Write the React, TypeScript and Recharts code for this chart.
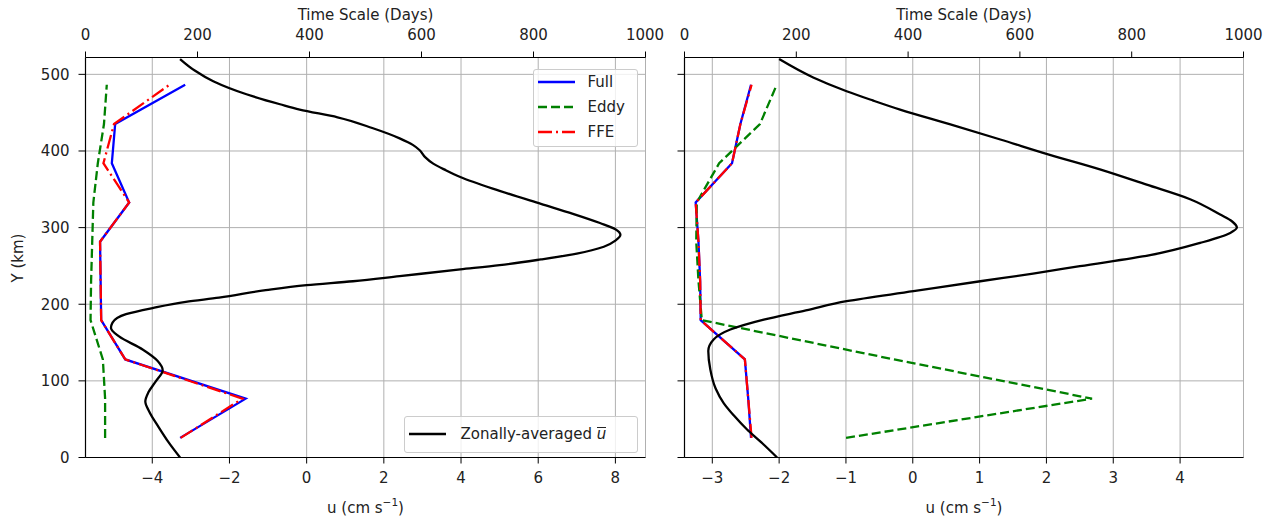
import React from "react";
import { ScatterChart, Scatter, XAxis, YAxis, CartesianGrid } from "recharts";

// Y positions (km) of the time-scale estimates
const Y_CENTERS = [25.6, 76.8, 128, 179.2, 230.4, 281.6, 332.8, 384, 435.2, 486.4];

// left panel time scales (days)
const FULL_L = [169, 286, 71, 28, 27, 26, 78, 47, 53, 178];
const EDDY_L = [35, 35, 31, 9, 10, 12, 14, 22, 33, 38];
const FFE_L = [170, 280, 71, 28, 27, 26, 78, 32, 51, 150];

// right panel time scales (days)
const FULL_R = [119, 114, 108, 29, 28, 25, 20, 85, 100, 119];
const EDDY_R = [289, 729, 375, 31, 25, 21, 22, 62, 135, 165];
const FFE_R = [120, 114, 108, 29, 28, 25, 20, 85, 100, 120];

// zonally averaged u (cm/s) profiles
const ZONAL_Y_L = [0, 20, 40, 60, 73, 85, 100, 114, 126, 141, 158, 169, 176, 187, 195, 203, 208.5, 218.4, 225, 230, 236.7, 245.4, 251, 258.5, 266, 275, 283, 290.6, 298, 306, 318, 331, 348, 366, 375, 383.5, 392, 401, 408, 416.5, 430, 444, 454, 461, 474, 491, 505, 520];
const ZONAL_U_L = [-3.28, -3.58, -3.84, -4.08, -4.18, -4.1, -3.9, -3.73, -3.86, -4.25, -4.86, -5.07, -5.03, -4.68, -3.99, -3.13, -2.27, -1.06, 0.0, 1.2, 2.41, 3.98, 5.0, 6.07, 7.0, 7.7, 8.0, 8.13, 8.0, 7.6, 6.9, 6.07, 5.0, 3.98, 3.6, 3.28, 3.07, 2.93, 2.75, 2.41, 1.7, 0.8, -0.18, -0.69, -1.56, -2.42, -2.9, -3.28];
const ZONAL_Y_R = [0, 20, 36.5, 55, 71, 90, 115, 139, 154, 167, 180, 192, 204, 217, 230, 240, 249.7, 264, 280, 293, 300, 308, 317, 337, 356, 376, 395, 415, 435, 454, 466, 478, 496, 520];
const ZONAL_U_R = [-2.03, -2.27, -2.48, -2.68, -2.83, -2.95, -3.03, -3.06, -2.98, -2.73, -2.23, -1.6, -0.99, 0.01, 1.01, 1.8, 2.5, 3.55, 4.3, 4.75, 4.85, 4.78, 4.6, 4.15, 3.5, 2.8, 2.05, 1.31, 0.55, -0.19, -0.6, -0.99, -1.49, -2.0];

const Y_TICKS = [0, 100, 200, 300, 400, 500];
const DAY_TICKS = [0, 200, 400, 600, 800, 1000];
const U_TICKS_L = [-4, -2, 0, 2, 4, 6, 8];
const U_TICKS_R = [-3, -2, -1, 0, 1, 2, 3, 4];

const FONT = "'DejaVu Sans', sans-serif";
const FS = 15;
const INK = "#222";
const LW = 2.3;
const DASHED = "9 4";
const DASHDOT = "14 4 2 4";

const pts = (xs: number[], ys: number[]) => xs.map((x, i) => ({ x, y: ys[i] }));
const noDot = () => <g />;
const noTick = () => <g />;
const minus = (v: number) => String(v).replace("-", "\u2212");
const tickStyle = { fontFamily: FONT, fontSize: FS, fill: INK };

function Sample({ color, dash }: { color: string; dash?: string }) {
  return (
    <svg width={37} height={10} style={{ position: "absolute", left: 4.5, top: -5 }}>
      <line x1={0} y1={5} x2={37} y2={5} stroke={color} strokeWidth={LW} strokeDasharray={dash} />
    </svg>
  );
}

function Row({ top, color, dash, children, textLeft }: any) {
  return (
    <div style={{ position: "absolute", left: 0, top, width: "100%", height: 0 }}>
      <Sample color={color} dash={dash} />
      <div style={{ position: "absolute", left: textLeft, top: -10, lineHeight: "20px", whiteSpace: "nowrap", fontFamily: FONT, fontSize: FS, color: INK }}>
        {children}
      </div>
    </div>
  );
}

const boxStyle: React.CSSProperties = {
  position: "absolute",
  background: "rgba(255,255,255,0.8)",
  border: "1px solid #cccccc",
  borderRadius: 3,
  boxSizing: "border-box",
};

interface PanelProps {
  left: number;
  width: number;
  yAxisW: number;
  marginRight: number;
  uDomain: [number, number];
  uTicks: number[];
  zonalU: number[];
  zonalY: number[];
  full: number[];
  eddy: number[];
  ffe: number[];
  showYLabels: boolean;
  children?: React.ReactNode;
}

function Panel(p: PanelProps) {
  const plotL = p.yAxisW;
  const plotR = p.width - p.marginRight;
  const cx = (plotL + plotR) / 2;
  return (
    <div style={{ position: "absolute", left: p.left, top: 0, width: p.width, height: 522 }}>
      <ScatterChart width={p.width} height={522} margin={{ top: 0, right: p.marginRight, bottom: 0, left: 0 }}>
        <CartesianGrid xAxisId="u" yAxisId="y" stroke="#b0b0b0" strokeWidth={1} />
        <XAxis
          xAxisId="t"
          orientation="top"
          type="number"
          dataKey="x"
          domain={[0, 1000]}
          ticks={DAY_TICKS}
          allowDataOverflow
          height={57.5}
          axisLine={{ stroke: "#000", strokeWidth: 1.2 }}
          tickLine={{ stroke: "#000" }}
          tickSize={6}
          tickMargin={12}
          tick={tickStyle}
          label={{
            content: () => (
              <text x={cx} y={15} textAnchor="middle" dominantBaseline="central" fontFamily={FONT} fontSize={FS} fill={INK}>
                Time Scale (Days)
              </text>
            ),
          }}
        />
        <XAxis
          xAxisId="u"
          orientation="bottom"
          type="number"
          dataKey="x"
          domain={p.uDomain}
          ticks={p.uTicks}
          allowDataOverflow
          height={64.5}
          axisLine={{ stroke: "#000", strokeWidth: 1.2 }}
          tickLine={{ stroke: "#000" }}
          tickSize={6}
          tickMargin={9}
          tick={tickStyle}
          tickFormatter={minus}
          label={{
            content: () => (
              <text x={cx} y={508} textAnchor="middle" dominantBaseline="central" fontFamily={FONT} fontSize={FS} fill={INK}>
                <tspan>u (cm s</tspan>
                <tspan dy={-6} fontSize={10.5}>{"\u22121"}</tspan>
                <tspan dy={6}>)</tspan>
              </text>
            ),
          }}
        />
        <YAxis
          yAxisId="y"
          type="number"
          dataKey="y"
          domain={[0, 522]}
          ticks={Y_TICKS}
          allowDataOverflow
          width={p.yAxisW}
          axisLine={{ stroke: "#000", strokeWidth: 1.2 }}
          tickLine={{ stroke: "#000" }}
          tickSize={7}
          tickMargin={9}
          tick={p.showYLabels ? tickStyle : noTick}
          label={
            p.showYLabels
              ? {
                  content: () => (
                    <text x={18} y={258} transform="rotate(-90 18 258)" textAnchor="middle" dominantBaseline="central" fontFamily={FONT} fontSize={FS} fill={INK}>
                      Y (km)
                    </text>
                  ),
                }
              : undefined
          }
        />
        <YAxis
          yAxisId="border"
          orientation="right"
          type="number"
          domain={[0, 1]}
          width={0}
          tick={false}
          tickLine={false}
          axisLine={{ stroke: "#000", strokeWidth: 1.2 }}
        />
        <Scatter
          name="Full"
          data={pts(p.full, Y_CENTERS)}
          xAxisId="t"
          yAxisId="y"
          shape={noDot}
          line={{ stroke: "#0000ff", strokeWidth: LW }}
          isAnimationActive={false}
        />
        <Scatter
          name="Eddy"
          data={pts(p.eddy, Y_CENTERS)}
          xAxisId="t"
          yAxisId="y"
          shape={noDot}
          line={{ stroke: "#008000", strokeWidth: LW, strokeDasharray: DASHED }}
          isAnimationActive={false}
        />
        <Scatter
          name="FFE"
          data={pts(p.ffe, Y_CENTERS)}
          xAxisId="t"
          yAxisId="y"
          shape={noDot}
          line={{ stroke: "#ff0000", strokeWidth: LW, strokeDasharray: DASHDOT }}
          isAnimationActive={false}
        />
        <Scatter
          name="Zonally-averaged u"
          data={pts(p.zonalU, p.zonalY)}
          xAxisId="u"
          yAxisId="y"
          shape={noDot}
          lineJointType="monotoneY"
          line={{ stroke: "#000", strokeWidth: LW }}
          isAnimationActive={false}
        />
      </ScatterChart>
      {p.children}
    </div>
  );
}

export default function App() {
  return (
    <div style={{ position: "absolute", left: 0, top: 0, width: 1274, height: 522, background: "#fff" }}>
      <style>{"svg.recharts-surface { overflow: visible; }"}</style>
      <Panel
        left={0}
        width={660}
        yAxisW={85.5}
        marginRight={14.5}
        uDomain={[-5.73, 8.78]}
        uTicks={U_TICKS_L}
        zonalU={ZONAL_U_L}
        zonalY={ZONAL_Y_L}
        full={FULL_L}
        eddy={EDDY_L}
        ffe={FFE_L}
        showYLabels
      >
        <div style={{ ...boxStyle, left: 532.5, top: 68.5, width: 105, height: 78 }}>
          <Row top={12} color="#0000ff" textLeft={54}>Full</Row>
          <Row top={37} color="#008000" dash={DASHED} textLeft={54}>Eddy</Row>
          <Row top={62} color="#ff0000" dash={DASHDOT} textLeft={54}>FFE</Row>
        </div>
        <div style={{ ...boxStyle, left: 403.5, top: 415.5, width: 234, height: 37.5 }}>
          <Row top={17} color="#000" textLeft={56}>
            Zonally-averaged{" "}
            <span style={{ display: "inline-block", fontStyle: "italic", borderTop: "1.2px solid #222", lineHeight: "11px", paddingTop: 1 }}>u</span>
          </Row>
        </div>
      </Panel>
      <Panel
        left={660}
        width={614}
        yAxisW={24.5}
        marginRight={30.5}
        uDomain={[-3.416, 4.949]}
        uTicks={U_TICKS_R}
        zonalU={ZONAL_U_R}
        zonalY={ZONAL_Y_R}
        full={FULL_R}
        eddy={EDDY_R}
        ffe={FFE_R}
        showYLabels={false}
      />
    </div>
  );
}
